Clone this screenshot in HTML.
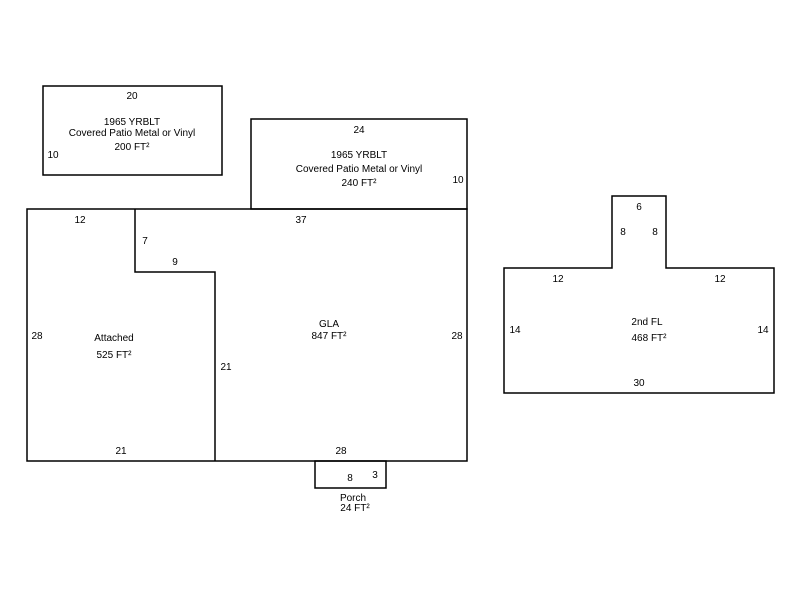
<!DOCTYPE html>
<html><head><style>
html,body{margin:0;padding:0;background:#fff;width:800px;height:600px;overflow:hidden}
svg text{font-family:"Liberation Sans",sans-serif;font-size:10px;fill:#000;text-anchor:middle}
</style></head><body>
<svg width="800" height="600" viewBox="0 0 800 600" xmlns="http://www.w3.org/2000/svg">
<g fill="none" stroke="#000" stroke-width="1.5">
<rect x="43" y="86" width="179" height="89"/>
<rect x="251" y="119" width="216" height="90"/>
<rect x="27" y="209" width="440" height="252"/>
<polyline points="135,209 135,272 215,272 215,461"/>
<rect x="315" y="461" width="71" height="27"/>
<polygon points="504,268 612,268 612,196 666,196 666,268 774,268 774,393 504,393"/>
</g>
<text x="132" y="99">20</text>
<text x="132" y="125">1965 YRBLT</text>
<text x="132" y="136">Covered Patio Metal or Vinyl</text>
<text x="132" y="150">200 FT²</text>
<text x="53" y="158">10</text>
<text x="359" y="133">24</text>
<text x="359" y="158">1965 YRBLT</text>
<text x="359" y="172">Covered Patio Metal or Vinyl</text>
<text x="359" y="186">240 FT²</text>
<text x="458" y="183">10</text>
<text x="80" y="223">12</text>
<text x="301" y="223">37</text>
<text x="145" y="244">7</text>
<text x="175" y="265">9</text>
<text x="37" y="339">28</text>
<text x="114" y="341">Attached</text>
<text x="114" y="358">525 FT²</text>
<text x="329" y="327">GLA</text>
<text x="329" y="339">847 FT²</text>
<text x="457" y="339">28</text>
<text x="226" y="370">21</text>
<text x="121" y="454">21</text>
<text x="341" y="454">28</text>
<text x="350" y="481">8</text>
<text x="375" y="478">3</text>
<text x="353" y="501">Porch</text>
<text x="355" y="511">24 FT²</text>
<text x="639" y="210">6</text>
<text x="623" y="235">8</text>
<text x="655" y="235">8</text>
<text x="558" y="282">12</text>
<text x="720" y="282">12</text>
<text x="515" y="333">14</text>
<text x="763" y="333">14</text>
<text x="647" y="325">2nd FL</text>
<text x="649" y="341">468 FT²</text>
<text x="639" y="386">30</text>
</svg>
</body></html>
